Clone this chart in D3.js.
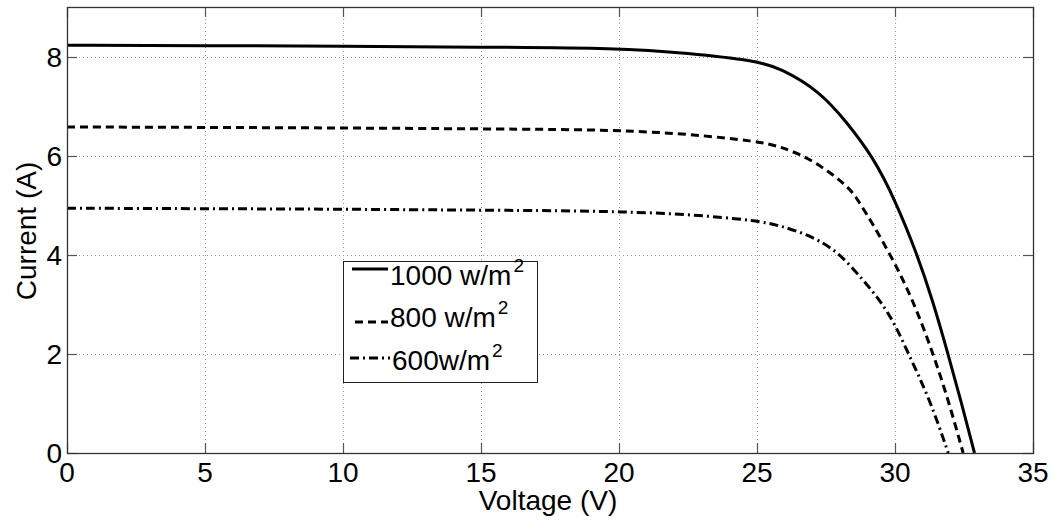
<!DOCTYPE html>
<html>
<head>
<meta charset="utf-8">
<script src="https://cdn.jsdelivr.net/npm/d3@7"></script>
<style>
  html, body { margin: 0; padding: 0; background: #fff; }
  svg text { font-family: "Liberation Sans", Arial, sans-serif; fill: #000; }
</style>
</head>
<body>
<svg id="chart" width="1064" height="523"></svg>
<script>
// I-V characteristics of a PV module at three irradiance levels
const voltage1000 = [0, 5, 10, 15, 20, 22.5, 25, 25.83, 27.28, 28.26, 29.2, 30.0, 30.79, 31.38, 31.88, 32.39, 32.88];
const current1000 = [8.23, 8.22, 8.21, 8.19, 8.17, 8.07, 7.91, 7.77, 7.30, 6.67, 5.98, 5.11, 4.03, 3.05, 2.08, 1.05, 0];

const voltage800 = [0, 5, 10, 15, 17.86, 20, 22.5, 25, 25.83, 27.03, 28.26, 28.65, 29.82, 30.65, 31.38, 31.93, 32.47];
const current800 = [6.58, 6.57, 6.56, 6.54, 6.53, 6.51, 6.44, 6.29, 6.19, 5.92, 5.40, 5.13, 4.03, 3.09, 2.01, 1.07, 0];

const voltage600 = [0, 5, 10, 15, 17.86, 20, 22.5, 25, 25.83, 27.03, 28.0, 28.84, 29.45, 30.0, 30.48, 31.27, 31.93];
const current600 = [4.94, 4.93, 4.92, 4.90, 4.89, 4.87, 4.82, 4.69, 4.59, 4.37, 4.03, 3.49, 3.09, 2.60, 2.01, 1.07, 0];

const seriesNames = ["1000 w/m", "800 w/m", "600w/m"];
const xTicks = [0, 5, 10, 15, 20, 25, 30, 35];
const yTicks = [0, 2, 4, 6, 8];
const xLabel = "Voltage (V)";
const yLabel = "Current (A)";

const series = [
  { name: seriesNames[0], v: voltage1000, i: current1000, dash: null },
  { name: seriesNames[1], v: voltage800, i: current800, dash: "8,5" },
  { name: seriesNames[2], v: voltage600, i: current600, dash: "9,4,2,4" }
];

const svg = d3.select("#chart");
const plotL = 67, plotR = 1033, plotT = 7, plotB = 453;

const x = d3.scaleLinear().domain([0, 35]).range([plotL, plotR]);
const y = d3.scaleLinear().domain([0, 9]).range([plotB, plotT]);

// dotted grid
const grid = svg.append("g").attr("stroke", "#9a9a9a").attr("stroke-width", 1)
  .attr("stroke-dasharray", "1,3");
grid.selectAll("line.gx").data(xTicks.filter(d => d > 0 && d < 35)).join("line")
  .attr("x1", d => Math.round(x(d)) + 0.5).attr("x2", d => Math.round(x(d)) + 0.5)
  .attr("y1", plotT).attr("y2", plotB);
grid.selectAll("line.gy").data(yTicks.filter(d => d > 0)).join("line")
  .attr("y1", d => Math.round(y(d)) + 0.5).attr("y2", d => Math.round(y(d)) + 0.5)
  .attr("x1", plotL).attr("x2", plotR);

// inward ticks on all four sides
const tickLen = 10;
const ticks = svg.append("g").attr("stroke", "#555").attr("stroke-width", 1.2);
xTicks.forEach(d => {
  const px = Math.round(x(d)) + 0.5;
  ticks.append("line").attr("x1", px).attr("x2", px).attr("y1", plotB).attr("y2", plotB - tickLen);
  ticks.append("line").attr("x1", px).attr("x2", px).attr("y1", plotT).attr("y2", plotT + tickLen);
});
yTicks.forEach(d => {
  const py = Math.round(y(d)) + 0.5;
  ticks.append("line").attr("y1", py).attr("y2", py).attr("x1", plotL).attr("x2", plotL + tickLen);
  ticks.append("line").attr("y1", py).attr("y2", py).attr("x1", plotR).attr("x2", plotR - tickLen);
});

// curves (B-spline through the sampled points keeps the knee smooth)
const line = d3.line().x(d => x(d[0])).y(d => y(d[1])).curve(d3.curveBasis);
series.forEach(s => {
  const pts = s.v.map((v, k) => [v, s.i[k]]);
  svg.append("path").datum(pts)
    .attr("d", line)
    .attr("fill", "none")
    .attr("stroke", "#000")
    .attr("stroke-width", 3)
    .attr("stroke-dasharray", s.dash);
});

// axes box
svg.append("rect").attr("x", plotL + 0.5).attr("y", plotT + 0.5)
  .attr("width", plotR - plotL).attr("height", plotB - plotT)
  .attr("fill", "none").attr("stroke", "#333").attr("stroke-width", 1.3);

// tick labels
svg.append("g").selectAll("text").data(xTicks).join("text")
  .attr("x", d => x(d)).attr("y", 482)
  .attr("text-anchor", "middle").attr("font-size", 28)
  .text(d => d);
svg.append("g").selectAll("text").data(yTicks).join("text")
  .attr("x", 62).attr("y", d => y(d) + 10)
  .attr("text-anchor", "end").attr("font-size", 28)
  .text(d => d);

// axis titles
svg.append("text").attr("x", 548).attr("y", 510)
  .attr("text-anchor", "middle").attr("font-size", 28).text(xLabel);
svg.append("text").attr("transform", "translate(36,231) rotate(-90)")
  .attr("text-anchor", "middle").attr("font-size", 28).text(yLabel);

// legend
const lg = svg.append("g");
lg.append("rect").attr("x", 343.5).attr("y", 261.5).attr("width", 194).attr("height", 121)
  .attr("fill", "#fff").attr("stroke", "#222").attr("stroke-width", 1);
const rows = [
  { lineY: 269, x1: 352, x2: 388, textX: 390, base: 285 },
  { lineY: 322, x1: 355, x2: 388, textX: 390, base: 327 },
  { lineY: 358, x1: 350, x2: 390, textX: 392, base: 370 }
];
series.forEach((s, k) => {
  const r = rows[k];
  lg.append("line").attr("x1", r.x1).attr("x2", r.x2).attr("y1", r.lineY).attr("y2", r.lineY)
    .attr("stroke", "#000").attr("stroke-width", 3).attr("stroke-dasharray", s.dash);
  const t = lg.append("text").attr("x", r.textX).attr("y", r.base).attr("font-size", 28);
  t.append("tspan").text(s.name);
  t.append("tspan").attr("font-size", 19).attr("dy", -13).attr("dx", 2).text("2");
});
</script>
</body>
</html>
